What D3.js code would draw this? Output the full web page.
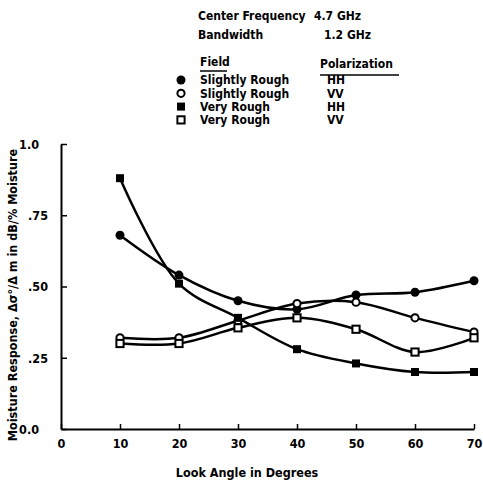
<!DOCTYPE html>
<html><head><meta charset="utf-8">
<script src="https://cdn.jsdelivr.net/npm/d3@7"></script>
<style>
body{margin:0;background:#fff;}
text{font-family:"DejaVu Sans Condensed","DejaVu Sans",sans-serif;font-weight:bold;font-stretch:condensed;fill:#000;}
</style></head><body>
<svg id="c" width="483" height="488"></svg>
<script>
const angles = [10, 20, 30, 40, 50, 60, 70];
const slightlyRoughHH = [0.68, 0.54, 0.45, 0.42, 0.47, 0.48, 0.52];
const slightlyRoughVV = [0.32, 0.32, 0.38, 0.44, 0.445, 0.39, 0.34];
const veryRoughHH = [0.88, 0.51, 0.39, 0.28, 0.23, 0.20, 0.20];
const veryRoughVV = [0.30, 0.30, 0.355, 0.39, 0.35, 0.27, 0.32];
const xTicks = [0, 10, 20, 30, 40, 50, 60, 70];
const yTicks = [0, 0.25, 0.5, 0.75, 1.0];
const yTickLabels = ["0.0", ".25", ".50", ".75", "1.0"];

const series = [
  {field:"Slightly Rough", pol:"HH", values:slightlyRoughHH, sym:"filledCircle"},
  {field:"Slightly Rough", pol:"VV", values:slightlyRoughVV, sym:"openCircle"},
  {field:"Very Rough", pol:"HH", values:veryRoughHH, sym:"filledSquare"},
  {field:"Very Rough", pol:"VV", values:veryRoughVV, sym:"openSquare"}
];

const svg = d3.select("#c");
const x = d3.scaleLinear().domain([0,70]).range([61,474]);
const y = d3.scaleLinear().domain([0,1]).range([429,144]);

// axes
const yAxis = svg.append("g").attr("transform","translate(61,0)")
  .call(d3.axisLeft(y).tickValues(yTicks).tickSizeInner(-6).tickSizeOuter(0).tickPadding(13)
    .tickFormat((d,i)=>yTickLabels[i]));
yAxis.select(".domain").attr("stroke","#000").attr("stroke-width",2);
yAxis.selectAll(".tick line").attr("stroke","#000").attr("stroke-width",1.5);
yAxis.selectAll(".tick text").style("font-size","12.5px").attr("dy","0.35em")
  .attr("x",(d)=> (d===0||d===1)? -22 : -13);

const xAxis = svg.append("g").attr("transform","translate(0,429)")
  .call(d3.axisBottom(x).tickValues(xTicks).tickSizeInner(-5).tickSizeOuter(0).tickPadding(10));
xAxis.select(".domain").attr("stroke","#000").attr("stroke-width",2);
xAxis.selectAll(".tick line").attr("stroke","#000").attr("stroke-width",1.5);
xAxis.selectAll(".tick text").style("font-size","12.5px");

svg.append("text").attr("transform","translate(17,295) rotate(-90)").attr("text-anchor","middle")
  .style("font-size","12.5px").text("Moisture Response,  Δσ°/Δ m in dB/% Moisture");
svg.append("text").attr("x",247).attr("y",477).attr("text-anchor","middle")
  .style("font-size","12.5px").text("Look Angle in Degrees");

// lines
const line = d3.line().x((d,i)=>x(angles[i])).y(d=>y(d)).curve(d3.curveCatmullRom.alpha(0.5));
svg.append("g").selectAll("path").data(series).join("path")
  .attr("d",d=>line(d.values)).attr("fill","none").attr("stroke","#000").attr("stroke-width",2.5);

function drawSym(g, sym, cx, cy){
  if(sym==="filledCircle") g.append("circle").attr("cx",cx).attr("cy",cy).attr("r",4.5).attr("fill","#000");
  else if(sym==="openCircle") g.append("circle").attr("cx",cx).attr("cy",cy).attr("r",3.6).attr("fill","#fff").attr("stroke","#000").attr("stroke-width",2);
  else if(sym==="filledSquare") g.append("rect").attr("x",cx-4).attr("y",cy-4).attr("width",8).attr("height",8).attr("fill","#000");
  else g.append("rect").attr("x",cx-3.6).attr("y",cy-3.6).attr("width",7.2).attr("height",7.2).attr("fill","#fff").attr("stroke","#000").attr("stroke-width",2);
}
const mg = svg.append("g");
series.forEach(s=>{
  s.values.forEach((v,i)=>drawSym(mg, s.sym, x(angles[i]), y(v)));
});

// header / legend
const lg = svg.append("g").style("font-size","12px");
lg.append("text").attr("x",198).attr("y",20).text("Center Frequency");
lg.append("text").attr("x",314).attr("y",20).text("4.7 GHz");
lg.append("text").attr("x",198).attr("y",39).text("Bandwidth");
lg.append("text").attr("x",324).attr("y",39).text("1.2 GHz");
lg.append("text").attr("x",200).attr("y",66).text("Field");
lg.append("line").attr("x1",200).attr("x2",227).attr("y1",71).attr("y2",71).attr("stroke","#000").attr("stroke-width",1.5);
lg.append("text").attr("x",320).attr("y",68).text("Polarization");
lg.append("line").attr("x1",320).attr("x2",399).attr("y1",75).attr("y2",75).attr("stroke","#000").attr("stroke-width",1.5);
series.forEach((s,i)=>{
  const cy = 80 + i*13.3;
  drawSym(lg, s.sym, 181, cy);
  lg.append("text").attr("x",200).attr("y",cy+4.3).text(s.field);
  lg.append("text").attr("x",327).attr("y",cy+4.3).text(s.pol);
});
</script>
</body></html>
